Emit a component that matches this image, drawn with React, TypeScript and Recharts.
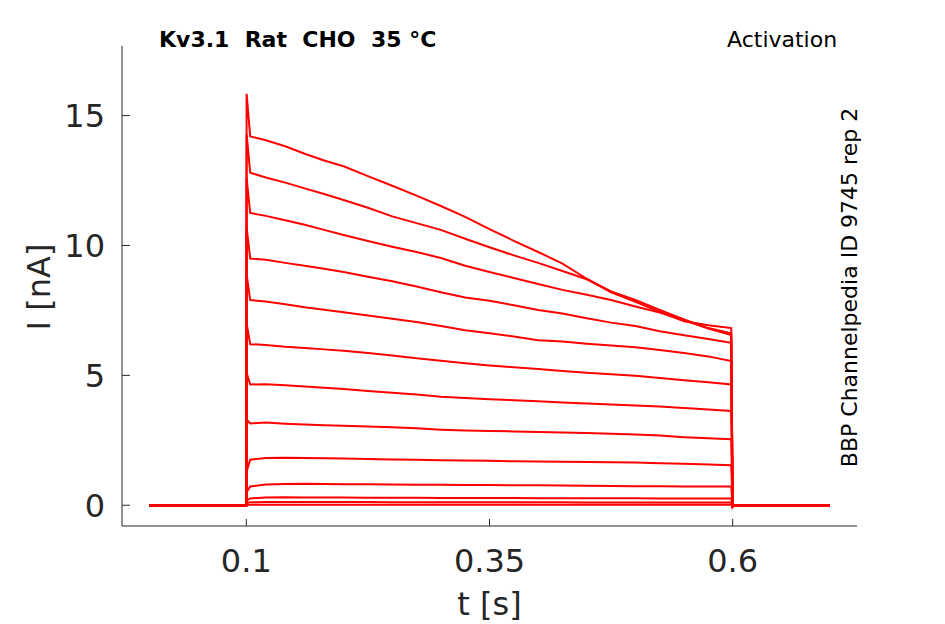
import React from "react";
import { LineChart, Line, XAxis, YAxis } from "recharts";

// time points [s]
const times = [
  0, 0.1, 0.1003, 0.104, 0.12, 0.14, 0.16, 0.18, 0.2, 0.225, 0.25, 0.275, 0.3,
  0.325, 0.35, 0.375, 0.4, 0.425, 0.45, 0.475, 0.5, 0.525, 0.55, 0.575, 0.5985,
  0.6, 0.6008, 0.7,
];

// current traces [nA], one per voltage step (largest first)
const trace1 = [0, 0, 15.84, 14.2, 14.05, 13.82, 13.53, 13.27, 13.05, 12.67, 12.3, 11.92, 11.52, 11.1, 10.63, 10.18, 9.75, 9.3, 8.72, 8.2, 7.83, 7.45, 7.08, 6.93, 6.82, -0.1, 0, 0];
const trace2 = [0, 0, 14.3, 12.8, 12.62, 12.42, 12.2, 11.98, 11.75, 11.45, 11.12, 10.86, 10.6, 10.26, 9.93, 9.62, 9.33, 9.02, 8.7, 8.23, 7.9, 7.52, 7.15, 6.82, 6.62, -0.1, 0, 0];
const trace3 = [0, 0, 12.6, 11.25, 11.14, 10.97, 10.8, 10.6, 10.4, 10.17, 9.95, 9.75, 9.52, 9.22, 8.98, 8.75, 8.52, 8.29, 8.1, 7.9, 7.65, 7.42, 7.12, 6.8, 6.55, -0.1, 0, 0];
const trace4 = [0, 0, 10.7, 9.5, 9.45, 9.33, 9.22, 9.1, 8.98, 8.8, 8.62, 8.42, 8.2, 8.0, 7.87, 7.7, 7.52, 7.38, 7.2, 7.03, 6.9, 6.7, 6.54, 6.4, 6.25, -0.1, 0, 0];
const trace5 = [0, 0, 8.9, 7.9, 7.84, 7.74, 7.62, 7.53, 7.43, 7.3, 7.18, 7.05, 6.9, 6.74, 6.62, 6.5, 6.35, 6.3, 6.22, 6.15, 6.08, 5.98, 5.86, 5.73, 5.55, -0.1, 0, 0];
const trace6 = [0, 0, 7.0, 6.2, 6.17, 6.1, 6.05, 6.0, 5.95, 5.86, 5.76, 5.66, 5.56, 5.47, 5.38, 5.31, 5.24, 5.17, 5.1, 5.04, 4.98, 4.9, 4.81, 4.73, 4.65, -0.08, 0, 0];
const trace7 = [0, 0, 5.1, 4.65, 4.66, 4.62, 4.57, 4.52, 4.47, 4.4, 4.33, 4.26, 4.18, 4.13, 4.08, 4.04, 4.0, 3.95, 3.92, 3.88, 3.84, 3.8, 3.74, 3.69, 3.63, -0.08, 0, 0];
const trace8 = [0, 0, 3.3, 3.15, 3.18, 3.14, 3.11, 3.08, 3.06, 3.03, 3.0, 2.96, 2.91, 2.88, 2.86, 2.84, 2.82, 2.8, 2.78, 2.75, 2.72, 2.68, 2.62, 2.58, 2.54, -0.06, 0, 0];
const trace9 = [0, 0, 1.3, 1.75, 1.82, 1.83, 1.82, 1.81, 1.8, 1.78, 1.76, 1.75, 1.73, 1.72, 1.71, 1.69, 1.68, 1.67, 1.66, 1.65, 1.64, 1.62, 1.6, 1.57, 1.54, -0.05, 0, 0];
const trace10 = [0, 0, 0.5, 0.72, 0.8, 0.82, 0.83, 0.82, 0.81, 0.81, 0.8, 0.79, 0.79, 0.78, 0.78, 0.77, 0.77, 0.76, 0.75, 0.74, 0.73, 0.73, 0.72, 0.72, 0.72, -0.04, 0, 0];
const trace11 = [0, 0, 0.18, 0.26, 0.3, 0.31, 0.3, 0.3, 0.3, 0.29, 0.29, 0.29, 0.28, 0.28, 0.28, 0.28, 0.27, 0.27, 0.27, 0.27, 0.27, 0.26, 0.26, 0.26, 0.26, -0.03, 0, 0];
const trace12 = [0, 0, 0.08, 0.11, 0.12, 0.12, 0.12, 0.12, 0.12, 0.12, 0.11, 0.11, 0.11, 0.11, 0.11, 0.11, 0.11, 0.11, 0.1, 0.1, 0.1, 0.1, 0.1, 0.1, 0.1, -0.02, 0, 0];
const trace13 = [0, 0, 0.02, 0.02, 0.02, 0.02, 0.02, 0.02, 0.02, 0.02, 0.02, 0.02, 0.02, 0.02, 0.02, 0.02, 0.02, 0.02, 0.02, 0.02, 0.02, 0.02, 0.02, 0.02, 0.02, 0, 0, 0];

const traces = [
  trace1, trace2, trace3, trace4, trace5, trace6, trace7,
  trace8, trace9, trace10, trace11, trace12, trace13,
];

const xTicks = [0.1, 0.35, 0.6];
const yTicks = [0, 5, 10, 15];

const rows = times.map((t, i) => {
  const row: Record<string, number> = { t };
  traces.forEach((tr, k) => {
    row[`s${k}`] = tr[i];
  });
  return row;
});

const FONT = "'DejaVu Sans', sans-serif";
const AXIS = "#262626";

export default function App() {
  return (
    <div style={{ position: "relative", width: 945, height: 624, fontFamily: FONT }}>
      <style>{"body{margin:0;background:#fff}"}</style>
      <LineChart
        width={945}
        height={624}
        data={rows}
        margin={{ top: 46, right: 88, bottom: 38, left: 62 }}
      >
        <XAxis
          type="number"
          dataKey="t"
          domain={[-0.0278, 0.7278]}
          ticks={xTicks}
          allowDataOverflow
          height={60}
          tickSize={-7}
          tickMargin={30}
          stroke={AXIS}
          tick={{ fontSize: 32, fill: AXIS, fontFamily: FONT }}
          axisLine={{ stroke: AXIS, strokeWidth: 1 }}
          tickLine={{ stroke: AXIS }}
        />
        <YAxis
          type="number"
          domain={[-0.8, 17.68]}
          ticks={yTicks}
          allowDataOverflow
          width={60}
          tickSize={-8}
          tickMargin={25}
          stroke={AXIS}
          tick={{ fontSize: 32, fill: AXIS, fontFamily: FONT }}
          axisLine={{ stroke: AXIS, strokeWidth: 1 }}
          tickLine={{ stroke: AXIS }}
        />
        {traces.map((_, k) => (
          <Line
            key={k}
            type="linear"
            dataKey={`s${k}`}
            stroke="#ff0000"
            strokeWidth={2}
            dot={false}
            activeDot={false}
            isAnimationActive={false}
          />
        ))}
      </LineChart>
      <svg
        width={945}
        height={624}
        style={{ position: "absolute", left: 0, top: 0, pointerEvents: "none" }}
      >
        <text
          x={159}
          y={46.7}
          fontSize={22}
          fontWeight="bold"
          fill="#000"
          fontFamily={FONT}
          style={{ whiteSpace: "pre" }}
        >
          {"Kv3.1  Rat  CHO  35 °C"}
        </text>
        <text x={727} y={46.7} fontSize={22} fill="#000" fontFamily={FONT}>
          Activation
        </text>
        <text
          transform="translate(856.5, 287.5) rotate(-90)"
          textAnchor="middle"
          fontSize={22}
          fill="#000"
          fontFamily={FONT}
        >
          BBP Channelpedia ID 9745 rep 2
        </text>
        <text
          transform="translate(49.5, 287) rotate(-90)"
          textAnchor="middle"
          fontSize={32}
          fill={AXIS}
          fontFamily={FONT}
        >
          I [nA]
        </text>
        <text x={489.5} y={615} textAnchor="middle" fontSize={32} fill={AXIS} fontFamily={FONT}>
          t [s]
        </text>
      </svg>
    </div>
  );
}
